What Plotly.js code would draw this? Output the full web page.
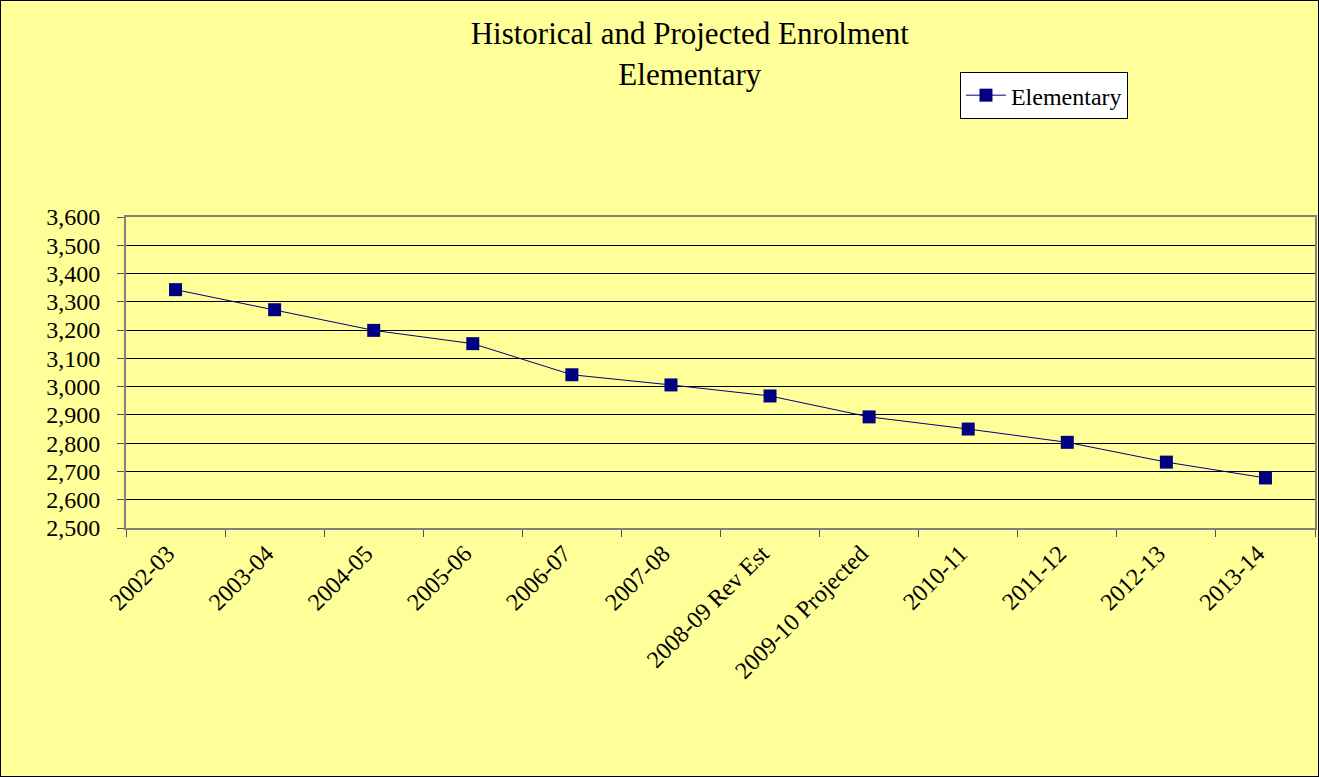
<!DOCTYPE html>
<html>
<head>
<meta charset="utf-8">
<script src="https://cdn.plot.ly/plotly-3.0.1.min.js"></script>
<style>
html,body{margin:0;padding:0;background:#FFFF99;}
#chart{width:1319px;height:777px;box-sizing:border-box;border:1px solid #000;}
</style>
</head>
<body>
<div id="chart"></div>
<script>
const categories = ["2002-03","2003-04","2004-05","2005-06","2006-07","2007-08","2008-09 Rev Est","2009-10 Projected","2010-11","2011-12","2012-13","2013-14"];
const elementary = [3343,3272,3199,3152,3042,3006,2967,2893,2850,2803,2733,2677];
const yTickVals = [2500,2600,2700,2800,2900,3000,3100,3200,3300,3400,3500,3600];

const font = "Liberation Serif, Times New Roman, serif";
const trace = {
  x: categories, y: elementary, type: "scatter", mode: "lines+markers",
  name: "Elementary",
  line: {color: "#000080", width: 1},
  marker: {symbol: "square", size: 13, color: "#000080"}
};
const layout = {
  width: 1317, height: 775,
  paper_bgcolor: "#FFFF99", plot_bgcolor: "#FFFF99",
  margin: {l: 125, r: 3, t: 216, b: 248},
  font: {family: font, color: "#000", size: 24},
  title: {text: "Historical and Projected Enrolment<br>Elementary", font: {family: font, size: 31, color: "#000"},
          x: 0.523, xanchor: "center", y: 0.944, yanchor: "top"},
  showlegend: true,
  legend: {x: 0.7014, y: 1.466, xanchor: "left", yanchor: "top", bgcolor: "#FFFFFF", itemwidth: 40,
           bordercolor: "#000", borderwidth: 1, font: {family: font, size: 24, color: "#000"}},
  xaxis: {type: "category", range: [-0.5, 11.5], tickangle: -45, tickson: "boundaries", ticks: "outside", ticklen: 7,
          tickcolor: "#555", showline: true, linecolor: "#808080", linewidth: 2, mirror: true, ticklabelshift: -8,
          showgrid: false, tickfont: {family: font, size: 24, color: "#000"}, automargin: false},
  yaxis: {range: [2500, 3600], tickvals: yTickVals, tickformat: ",d", ticks: "outside", ticklen: 7,
          tickcolor: "#555", showline: true, linecolor: "#808080", linewidth: 2, mirror: true, ticklabelstandoff: 12,
          showgrid: true, gridcolor: "#000", gridwidth: 1, zeroline: false,
          tickfont: {family: font, size: 24, color: "#000"}, automargin: false}
};
Plotly.newPlot("chart", [trace], layout, {displayModeBar: false, staticPlot: true});
</script>
</body>
</html>
